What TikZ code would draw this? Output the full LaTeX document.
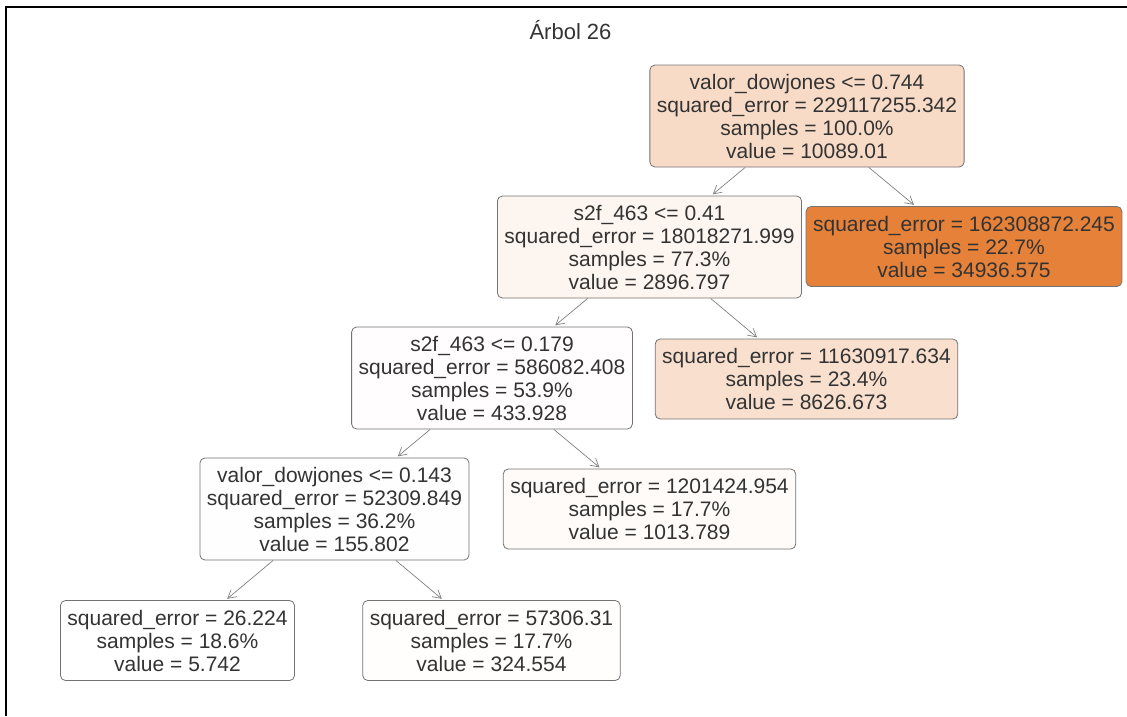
\documentclass[tikz,border=0pt]{standalone}
\usepackage{fontspec}
\setmainfont{Liberation Sans}
\usetikzlibrary{arrows.meta}
\definecolor{c0}{RGB}{248,219,198}
\definecolor{c1}{RGB}{253,245,239}
\definecolor{c2}{RGB}{229,129,57}
\definecolor{c3}{RGB}{255,253,253}
\definecolor{c4}{RGB}{249,224,206}
\definecolor{c5}{RGB}{255,254,254}
\definecolor{c6}{RGB}{254,251,249}
\definecolor{c7}{RGB}{255,255,255}
\definecolor{c8}{RGB}{255,254,253}
\begin{document}
\begin{tikzpicture}[x=1pt,y=-1pt,
  tn/.style={draw=black!55, line width=0.8pt, rounded corners=5pt, align=center,
    font=\fontsize{21}{23}\selectfont, text=black!80, inner xsep=7pt, inner ysep=0pt},
  nfour/.style={tn, minimum height=102pt},
  nthree/.style={tn, minimum height=80pt},
  edge/.style={draw=black!50, line width=0.7pt, -{Straight Barb[length=8pt,width=9pt]}, shorten >=2pt}]
\useasboundingbox (0,0) rectangle (1127,716);
\draw[line width=2.5pt] (6,716) -- (6,7) -- (1127,7);
\node[font=\fontsize{22}{26}\selectfont, text=black!80, anchor=base] (title) at (570.5,39) {Árbol 26};
\node[nfour, fill=c0] (root) at (807,116) {valor\_dowjones <= 0.744\\squared\_error = 229117255.342\\samples = 100.0\%\\value = 10089.01};
\node[nfour, fill=c1] (n1) at (649.5,247) {s2f\_463 <= 0.41\\squared\_error = 18018271.999\\samples = 77.3\%\\value = 2896.797};
\node[nthree, fill=c2] (l1) at (964,246.5) {squared\_error = 162308872.245\\samples = 22.7\%\\value = 34936.575};
\node[nfour, fill=c3] (n2) at (492,378) {s2f\_463 <= 0.179\\squared\_error = 586082.408\\samples = 53.9\%\\value = 433.928};
\node[nthree, fill=c4] (l2) at (806.5,379) {squared\_error = 11630917.634\\samples = 23.4\%\\value = 8626.673};
\node[nfour, fill=c5] (n3) at (334.5,509) {valor\_dowjones <= 0.143\\squared\_error = 52309.849\\samples = 36.2\%\\value = 155.802};
\node[nthree, fill=c6] (l3) at (649.5,509) {squared\_error = 1201424.954\\samples = 17.7\%\\value = 1013.789};
\node[nthree, fill=c7] (l4) at (177.5,640.5) {squared\_error = 26.224\\samples = 18.6\%\\value = 5.742};
\node[nthree, fill=c8] (l5) at (491.5,640.5) {squared\_error = 57306.31\\samples = 17.7\%\\value = 324.554};
\draw[edge] (root) -- (n1);
\draw[edge] (root) -- (l1);
\draw[edge] (n1) -- (n2);
\draw[edge] (n1) -- (l2);
\draw[edge] (n2) -- (n3);
\draw[edge] (n2) -- (l3);
\draw[edge] (n3) -- (l4);
\draw[edge] (n3) -- (l5);
\end{tikzpicture}
\end{document}
